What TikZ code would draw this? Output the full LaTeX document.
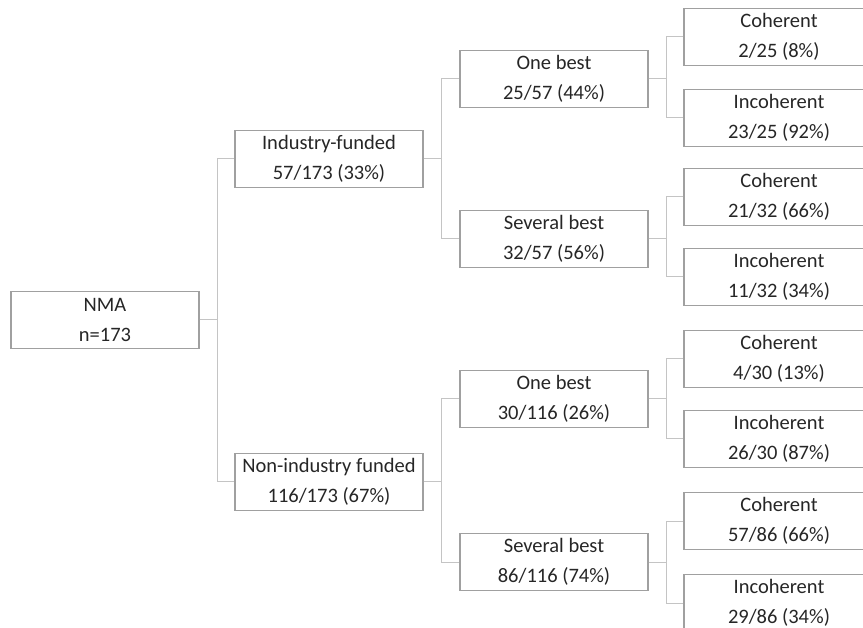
\documentclass[tikz,border=0pt]{standalone}
\usepackage{fontspec}
\setmainfont{Carlito}
\definecolor{boxgray}{HTML}{A0A0A0}
\definecolor{linegray}{HTML}{C4C4C4}
\definecolor{textgray}{HTML}{262626}
\begin{document}
\begin{tikzpicture}[
    x=1pt, y=-1pt,
    box/.style={draw=boxgray, line width=1.2pt, minimum width=188pt, minimum height=57pt, inner sep=0pt, align=center, text=textgray, font=\fontsize{20.5}{30}\selectfont},
    leaf/.style={box, minimum width=190pt},
    link/.style={draw=linegray, line width=1pt}
]
    \clip (0,0) rectangle (863,628);
    \node[box] (nma) at (105,320) {NMA\\n=173};
    \node[box] (ind) at (329,159) {Industry-funded\\57/173 (33\%)};
    \node[box] (non) at (329,482) {Non-industry funded\\116/173 (67\%)};

    \node[box] (indone) at (554,79) {One best\\25/57 (44\%)};
    \node[box] (indsev) at (554,239) {Several best\\32/57 (56\%)};
    \node[box] (nonone) at (554,399) {One best\\30/116 (26\%)};
    \node[box] (nonsev) at (554,562) {Several best\\86/116 (74\%)};

    \node[leaf] (coh1) at (779,37) {Coherent\\2/25 (8\%)};
    \node[leaf] (inc1) at (779,118) {Incoherent\\23/25 (92\%)};
    \node[leaf] (coh2) at (779,197) {Coherent\\21/32 (66\%)};
    \node[leaf] (inc2) at (779,277) {Incoherent\\11/32 (34\%)};
    \node[leaf] (coh3) at (779,359) {Coherent\\4/30 (13\%)};
    \node[leaf] (inc3) at (779,439) {Incoherent\\26/30 (87\%)};
    \node[leaf] (coh4) at (779,521) {Coherent\\57/86 (66\%)};
    \node[leaf] (inc4) at (779,603) {Incoherent\\29/86 (34\%)};

    \draw[link] (nma.east) -- ++(17.5,0) |- (ind.west);
    \draw[link] (nma.east) -- ++(17.5,0) |- (non.west);
    \draw[link] (ind.east) -- ++(18,0) |- (indone.west);
    \draw[link] (ind.east) -- ++(18,0) |- (indsev.west);
    \draw[link] (non.east) -- ++(18,0) |- (nonone.west);
    \draw[link] (non.east) -- ++(18,0) |- (nonsev.west);
    \draw[link] (indone.east) -- ++(18,0) |- (coh1.west);
    \draw[link] (indone.east) -- ++(18,0) |- (inc1.west);
    \draw[link] (indsev.east) -- ++(18,0) |- (coh2.west);
    \draw[link] (indsev.east) -- ++(18,0) |- (inc2.west);
    \draw[link] (nonone.east) -- ++(18,0) |- (coh3.west);
    \draw[link] (nonone.east) -- ++(18,0) |- (inc3.west);
    \draw[link] (nonsev.east) -- ++(18,0) |- (coh4.west);
    \draw[link] (nonsev.east) -- ++(18,0) |- (inc4.west);
\end{tikzpicture}
\end{document}
